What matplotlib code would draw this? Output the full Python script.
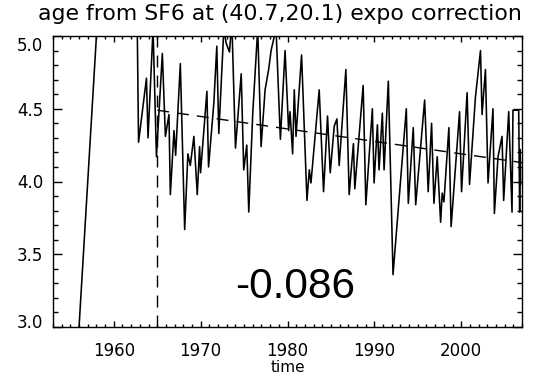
import numpy as np
import matplotlib as mpl
mpl.use('Agg')
import matplotlib.pyplot as plt
import matplotlib.transforms as mtransforms
from matplotlib.ticker import MultipleLocator, FixedFormatter

## age series (years, age)
years = [1955.5, 1958.5, 1962.6, 1962.85, 1963.76, 1963.94, 1964.52, 1964.91, 1965.59, 1965.94,
         1966.35, 1966.51, 1966.93, 1967.12, 1967.66, 1968.16, 1968.53, 1968.81, 1969.22, 1969.61,
         1969.88, 1969.99, 1970.72, 1970.91, 1971.52, 1971.86, 1972.09, 1972.67, 1972.94, 1973.32,
         1973.59, 1974.01, 1974.67, 1974.96, 1975.31, 1975.54, 1976.00, 1976.57, 1976.96, 1977.42,
         1977.83, 1978.11, 1978.68, 1979.18, 1979.72, 1980.13, 1980.29, 1980.59, 1980.78, 1980.98,
         1981.62, 1982.24, 1982.51, 1982.70, 1983.65, 1984.15, 1984.61, 1984.92, 1985.38, 1985.69,
         1985.95, 1986.72, 1987.10, 1987.59, 1987.75, 1988.71, 1989.02, 1989.77, 1989.97, 1990.35,
         1990.54, 1990.92, 1991.12, 1991.61, 1992.15, 1993.68, 1993.91, 1994.48, 1994.76, 1995.79,
         1996.20, 1996.59, 1996.86, 1997.24, 1997.63, 1997.81, 1998.01, 1998.58, 1998.84, 1999.81,
         2000.04, 2000.68, 2000.96, 2001.64, 2002.22, 2002.40, 2002.79, 2003.09, 2003.66, 2003.82,
         2004.24, 2004.70, 2004.89, 2005.47, 2005.85, 2005.96, 2006.62, 2006.73, 2006.79, 2006.85]
ages = [2.50, 5.50, 5.60, 4.27, 4.71, 4.30, 5.05, 4.17, 4.88, 4.31,
        4.46, 3.91, 4.35, 4.18, 4.81, 3.67, 4.19, 4.11, 4.31, 3.91,
        4.24, 4.06, 4.62, 4.10, 4.54, 4.93, 4.33, 5.05, 4.95, 4.89,
        5.10, 4.23, 4.74, 4.08, 4.25, 3.79, 4.47, 5.05, 4.24, 4.63,
        4.77, 4.90, 5.05, 4.29, 4.90, 4.35, 4.48, 4.19, 4.63, 4.31,
        4.87, 3.87, 4.08, 3.99, 4.63, 3.93, 4.45, 4.06, 4.38, 4.43,
        4.11, 4.77, 3.91, 4.26, 3.95, 4.66, 3.84, 4.50, 3.99, 4.39,
        4.08, 4.47, 4.08, 4.69, 3.36, 4.50, 3.85, 4.37, 3.84, 4.56,
        3.93, 4.40, 3.85, 4.17, 3.72, 3.92, 3.86, 4.37, 3.69, 4.48,
        3.93, 4.61, 3.98, 4.58, 4.90, 4.46, 4.77, 3.99, 4.50, 3.78,
        4.17, 4.31, 3.87, 4.48, 3.79, 4.49, 4.49, 3.79, 4.22, 3.98]

## linear trend from 1965 on
trend_years = [1965.0, 2007.0]
trend_ages = [4.49, 4.13]
trend_label = '-0.086'
start_year = 1965.0

yticks = [3.0, 3.5, 4.0, 4.5, 5.0]
yticklabels = ['3.0', '3.5', '4.0', '4.5', '5.0']
title = 'age from SF6 at (40.7,20.1) expo correction'
xlabel = 'time'

dash = (0, (8.6, 5.8))

fig = plt.figure(figsize=(5.4, 3.75), dpi=100)
ax = fig.add_axes([53 / 540, 48 / 375, 469 / 540, 291 / 375])

ax.plot(years, ages, color='black', lw=1.15, solid_joinstyle='round')
ax.plot(trend_years, trend_ages, color='black', lw=1.0, linestyle=dash)
ax.plot([start_year, start_year], [3.0, 5.0], color='black', lw=1.0, linestyle=dash)

ax.set_xlim(1953, 2007)
ax.set_ylim(3.0, 5.0)

## IDL style axes: ticks inside on all four sides
ax.xaxis.set_major_locator(MultipleLocator(10))
ax.xaxis.set_minor_locator(MultipleLocator(1))
ax.set_yticks(yticks)
ax.yaxis.set_minor_locator(MultipleLocator(0.1))
## end labels are drawn by hand below, nudged inside the axis range like IDL does
ax.yaxis.set_major_formatter(FixedFormatter([''] + yticklabels[1:-1] + ['']))
ax.tick_params(which='both', direction='in', top=True, right=True, width=1.0, labelsize=12)
ax.tick_params(axis='x', which='major', length=4.3, pad=10.5)
ax.tick_params(axis='x', which='minor', length=2.5)
ax.tick_params(axis='y', which='major', length=6.5, pad=7)
ax.tick_params(axis='y', which='minor', length=3.6)
for s in ax.spines.values():
    s.set_linewidth(1.0)

ytrans = ax.get_yaxis_transform()
for val, lab, dy in [(yticks[0], yticklabels[0], 4), (yticks[-1], yticklabels[-1], -6)]:
    off = mtransforms.ScaledTranslation(-7 / 72, dy / 72, fig.dpi_scale_trans)
    ax.text(0, val, lab, transform=ytrans + off, ha='right', va='center_baseline', fontsize=12)

ax.set_xlabel(xlabel, fontsize=11, labelpad=0)
fig.text(0.5 * (35 + 525) / 540, 1 - 14 / 375, title, ha='center', va='center', fontsize=15.8)

ax.text(1980.84, 3.197, trend_label, ha='center', va='baseline', fontsize=30.5, family='Liberation Sans')

plt.savefig('out.png', dpi=100, facecolor='white')
plt.close()
